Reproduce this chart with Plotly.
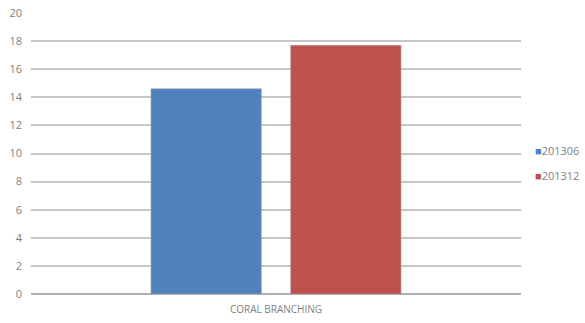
import plotly.graph_objects as go

categories = ["CORAL BRANCHING"]
series_names = ["201306", "201312"]
values_201306 = [14.6]
values_201312 = [17.7]
colors = ["#4F81BD", "#C0504D"]
y_ticks = [0, 2, 4, 6, 8, 10, 12, 14, 16, 18, 20]

fig = go.Figure()
for name, vals, col in zip(series_names, [values_201306, values_201312], colors):
    fig.add_trace(go.Bar(
        x=categories, y=vals, name=name,
        marker=dict(color=col, line=dict(color="rgba(160,160,160,0.6)", width=1)),
        showlegend=False,
    ))

# Compact legend on the right: coloured square followed by the series label
legend_y = [0.51, 0.42]
for name, col, ly in zip(series_names, colors, legend_y):
    fig.add_annotation(
        xref="paper", yref="paper", x=1.025, y=ly, xanchor="left", yanchor="middle",
        text=f"<span style='color:{col};font-size:11px'>■</span>{name}",
        showarrow=False, font=dict(size=11, color="#7f7f7f"),
    )

fig.update_layout(
    width=585, height=323,
    margin=dict(l=31, r=64, t=13, b=29, autoexpand=False),
    paper_bgcolor="white", plot_bgcolor="white",
    barmode="group", bargap=0.43, bargroupgap=0.21,
    font=dict(family="Open Sans, Liberation Sans, sans-serif", size=11, color="#7f7f7f"),
    showlegend=False,
    xaxis=dict(showgrid=False, showline=False, ticks="", tickfont=dict(size=10),
               ticklabelstandoff=8),
    yaxis=dict(range=[0, 20], tickvals=y_ticks, showgrid=True, gridcolor="#c6c6c6",
               gridwidth=1.5, zeroline=True, zerolinecolor="#b0b0b0", zerolinewidth=1.5,
               showline=False, ticks="", ticklabelstandoff=8),
)

fig.write_html("out.html")
